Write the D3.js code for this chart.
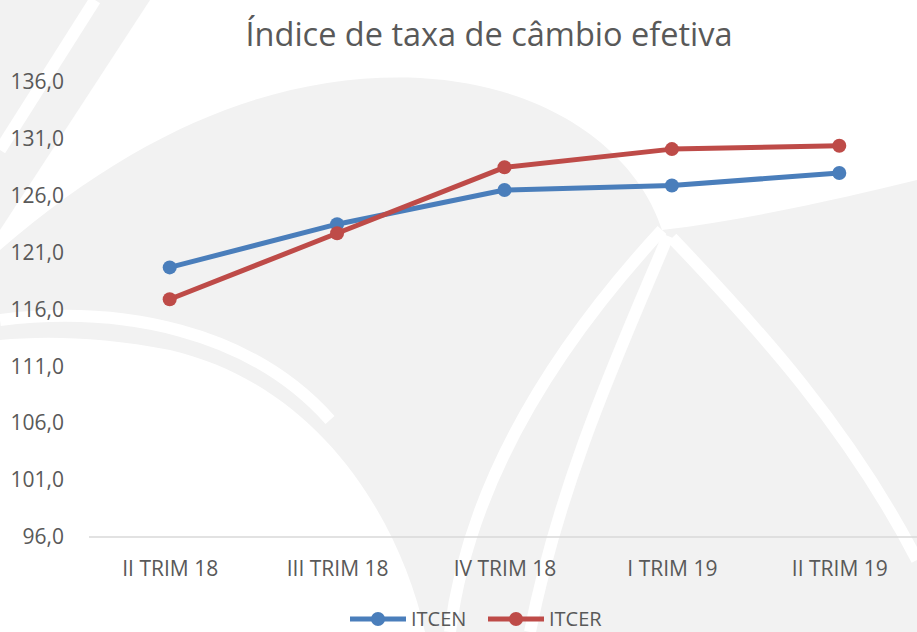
<!DOCTYPE html>
<html>
<head>
<meta charset="utf-8">
<script src="https://cdn.jsdelivr.net/npm/d3@7.9.0/dist/d3.min.js"></script>
<style>
  body { margin: 0; background: #fff; }
  svg { display: block; font-family: 'Open Sans', sans-serif; }
  .axis text { fill: #595959; font-size: 21px; font-family: 'Open Sans', sans-serif; }
</style>
</head>
<body>
<svg width="917" height="632"></svg>
<script>
const categories = ['II TRIM 18', 'III TRIM 18', 'IV TRIM 18', 'I TRIM 19', 'II TRIM 19'];
const itcen = [119.7, 123.5, 126.5, 126.9, 128.0];
const itcer = [116.9, 122.7, 128.5, 130.1, 130.4];
const yTicks = [96, 101, 106, 111, 116, 121, 126, 131, 136];

const series = [
  { name: 'ITCEN', values: itcen, color: '#4a7ebb' },
  { name: 'ITCER', values: itcer, color: '#be4b48' }
];

const svg = d3.select('svg');

// faint watermark in the background
const wm = svg.append('g');
wm.append('path')
  .attr('fill', '#f2f2f2')
  .attr('d', 'M0,250 C150,120 290,72 420,78 C560,86 640,160 662,230 C760,218 850,196 917,180 L917,632 L425,632 C400,520 320,385 170,350 C100,336 40,336 0,340 Z');
wm.append('path')
  .attr('fill', '#f2f2f2')
  .attr('d', 'M0,0 L150,0 L0,230 Z');
const whiteBands = [
  'M662,230 C570,330 470,470 450,632',
  'M668,236 C620,350 560,480 530,632',
  'M672,238 C760,330 850,430 917,560',
  'M0,320 C120,305 250,330 330,420',
  'M95,0 L0,150'
];
whiteBands.forEach((d) => {
  wm.append('path').attr('d', d).attr('fill', 'none')
    .attr('stroke', '#fff').attr('stroke-width', 12);
});

const x = d3.scalePoint().domain(categories).range([86, 923]).padding(0.5);
const y = d3.scaleLinear().domain([96, 136]).range([537, 82]);

// title
svg.append('text')
  .attr('x', 489).attr('y', 46)
  .attr('text-anchor', 'middle')
  .attr('fill', '#595959')
  .attr('font-size', 32.5)
  .text('Índice de taxa de câmbio efetiva');

// y axis
const fmt = (d) => d3.format('.1f')(d).replace('.', ',');
const yAxis = svg.append('g')
  .attr('class', 'axis')
  .attr('transform', 'translate(64,0)')
  .call(d3.axisLeft(y).tickValues(yTicks).tickFormat(fmt).tickSize(0).tickPadding(0));
yAxis.select('.domain').remove();

// x axis
const xAxis = svg.append('g')
  .attr('class', 'axis')
  .attr('transform', `translate(0,${y(96)})`)
  .call(d3.axisBottom(x).tickSize(0).tickPadding(24));
xAxis.select('.domain').remove();
svg.append('line')
  .attr('x1', 89).attr('x2', 917)
  .attr('y1', y(96)).attr('y2', y(96))
  .attr('stroke', '#d9d9d9').attr('stroke-width', 1.5);

// lines
const line = d3.line()
  .x((d, i) => x(categories[i]))
  .y((d) => y(d));

series.forEach((s) => {
  svg.append('path')
    .datum(s.values)
    .attr('fill', 'none')
    .attr('stroke', s.color)
    .attr('stroke-width', 5)
    .attr('stroke-linejoin', 'round')
    .attr('d', line);
  svg.selectAll(null)
    .data(s.values)
    .join('circle')
    .attr('cx', (d, i) => x(categories[i]))
    .attr('cy', (d) => y(d))
    .attr('r', 7)
    .attr('fill', s.color);
});

// legend
const legend = svg.append('g').attr('transform', 'translate(350,619)');
series.forEach((s, i) => {
  const g = legend.append('g').attr('transform', `translate(${i * 138},0)`);
  g.append('line').attr('x1', 0).attr('x2', 56)
    .attr('stroke', s.color).attr('stroke-width', 5);
  g.append('circle').attr('cx', 28).attr('r', 7).attr('fill', s.color);
  g.append('text').attr('x', 61).attr('y', 7)
    .attr('fill', '#595959').attr('font-size', 20)
    .text(s.name);
});
</script>
</body>
</html>
